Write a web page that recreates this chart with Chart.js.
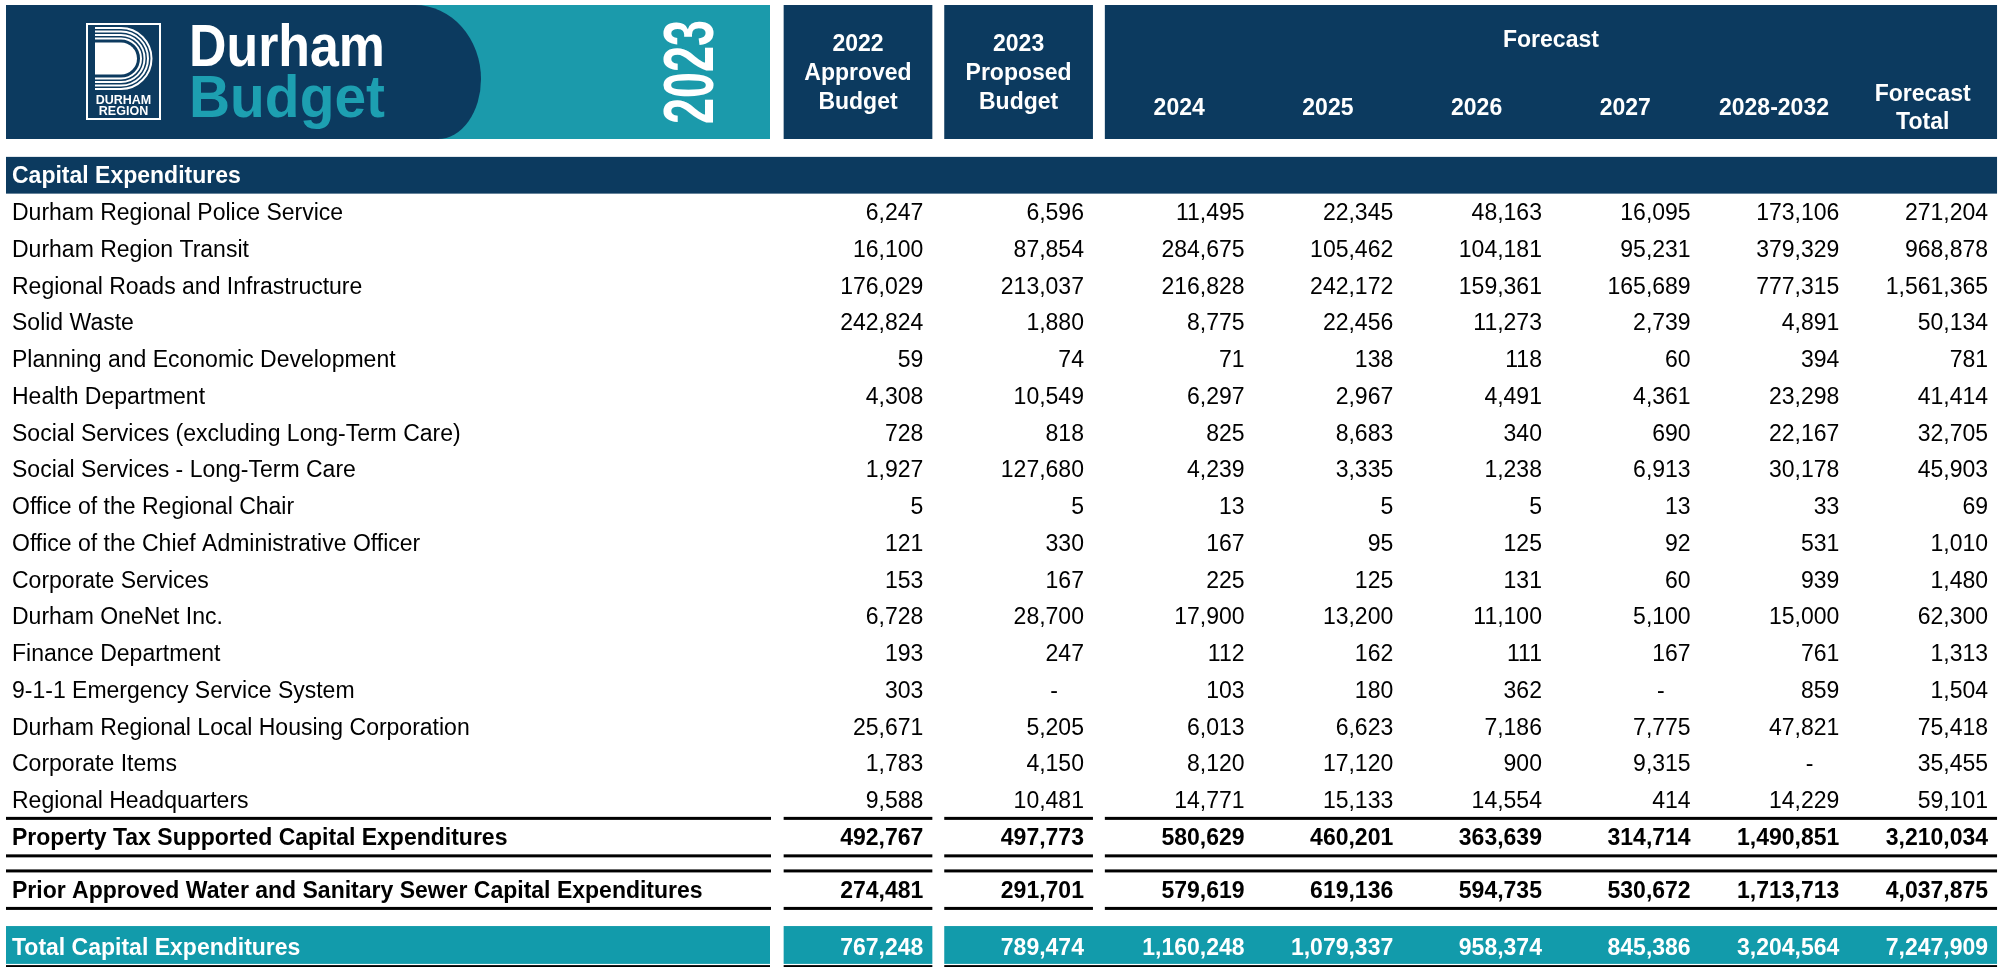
<!DOCTYPE html>
<html>
<head>
<meta charset="utf-8">
<script src="https://cdn.jsdelivr.net/npm/chart.js@4.4.0/dist/chart.umd.min.js"></script>
<style>
html,body{margin:0;padding:0;background:#fff;}
#wrap{width:2011px;height:967px;position:relative;}
</style>
</head>
<body>
<div id="wrap"><canvas id="c"></canvas></div>
<script>
// ---------------- DATA ----------------
const sectionLabel = 'Capital Expenditures';
const forecastGroupLabel = 'Forecast';
const columnHeaders = [
  ['2022', 'Approved', 'Budget'],
  ['2023', 'Proposed', 'Budget'],
  ['2024'], ['2025'], ['2026'], ['2027'], ['2028-2032'],
  ['Forecast', 'Total']
];
const departments = [
  'Durham Regional Police Service',
  'Durham Region Transit',
  'Regional Roads and Infrastructure',
  'Solid Waste',
  'Planning and Economic Development',
  'Health Department',
  'Social Services (excluding Long-Term Care)',
  'Social Services - Long-Term Care',
  'Office of the Regional Chair',
  'Office of the Chief Administrative Officer',
  'Corporate Services',
  'Durham OneNet Inc.',
  'Finance Department',
  '9-1-1 Emergency Service System',
  'Durham Regional Local Housing Corporation',
  'Corporate Items',
  'Regional Headquarters'
];
const approved2022 = [6247, 16100, 176029, 242824, 59, 4308, 728, 1927, 5, 121, 153, 6728, 193, 303, 25671, 1783, 9588];
const proposed2023 = [6596, 87854, 213037, 1880, 74, 10549, 818, 127680, 5, 330, 167, 28700, 247, null, 5205, 4150, 10481];
const forecast2024 = [11495, 284675, 216828, 8775, 71, 6297, 825, 4239, 13, 167, 225, 17900, 112, 103, 6013, 8120, 14771];
const forecast2025 = [22345, 105462, 242172, 22456, 138, 2967, 8683, 3335, 5, 95, 125, 13200, 162, 180, 6623, 17120, 15133];
const forecast2026 = [48163, 104181, 159361, 11273, 118, 4491, 340, 1238, 5, 125, 131, 11100, 111, 362, 7186, 900, 14554];
const forecast2027 = [16095, 95231, 165689, 2739, 60, 4361, 690, 6913, 13, 92, 60, 5100, 167, null, 7775, 9315, 414];
const forecast2028to2032 = [173106, 379329, 777315, 4891, 394, 23298, 22167, 30178, 33, 531, 939, 15000, 761, 859, 47821, null, 14229];
const forecastTotal = [271204, 968878, 1561365, 50134, 781, 41414, 32705, 45903, 69, 1010, 1480, 62300, 1313, 1504, 75418, 35455, 59101];

const summaryLabels = [
  'Property Tax Supported Capital Expenditures',
  'Prior Approved Water and Sanitary Sewer Capital Expenditures',
  'Total Capital Expenditures'
];
const propertyTaxTotals = [492767, 497773, 580629, 460201, 363639, 314714, 1490851, 3210034];
const waterSewerTotals  = [274481, 291701, 579619, 619136, 594735, 530672, 1713713, 4037875];
const totalCapital      = [767248, 789474, 1160248, 1079337, 958374, 845386, 3204564, 7247909];

const columnSeries = [approved2022, proposed2023, forecast2024, forecast2025, forecast2026, forecast2027, forecast2028to2032, forecastTotal];
const summarySeries = [propertyTaxTotals, waterSewerTotals, totalCapital];

// ---------------- STYLE / LAYOUT ----------------
const S = {
  W: 2011, H: 967,
  navy: '#0c3a5f', teal: '#1b9aab', totalTeal: '#129bab', budgetTeal: '#1d9fb1',
  font: '"Liberation Sans", Arial, Helvetica, sans-serif',
  fs: 23,
  colWidth: 148.7, firstColCenter: 858, groupGap: 0.08,
  rowHeight: 36.75, firstRowY: 212,
  labelLeft: 6, labelRight: 771, labelPad: 6,
  headerTop: 5, headerBottom: 139,
  textInset: 9, dashInset: 26,
  summaryGaps: [1, 1.45, 1.55],
  ruleW: 3
};
const columnGroups = [[0], [1], [2, 3, 4, 5, 6, 7]];
const totalBandGroups = [[0], [1, 2, 3, 4, 5, 6, 7]];

const groupOf = c => columnGroups.findIndex(g => g.includes(c));
const xPos = c => c + groupOf(c) * S.groupGap;

// row slots (row index along the y scale)
const summarySlots = [];
{
  let s = departments.length - 1;
  S.summaryGaps.forEach(g => { s += g; summarySlots.push(s); });
}

const xMin = (0 - S.firstColCenter) / S.colWidth;
const xMax = (S.W - S.firstColCenter) / S.colWidth;
const yMin = (0 - S.firstRowY) / S.rowHeight;
const yMax = (S.H - S.firstRowY) / S.rowHeight;

const datasets = columnSeries.map((series, c) => ({
  label: columnHeaders[c].join(' '),
  data: series.map((v, r) => ({ x: xPos(c), y: r, v: v, kind: 'row' }))
    .concat(summarySeries.map((ss, k) => ({ x: xPos(c), y: summarySlots[k], v: ss[c], kind: k === 2 ? 'total' : 'sum' }))),
  pointRadius: 0, pointHoverRadius: 0, showLine: false
}));

function fmt(v) { return v === null ? '-' : v.toLocaleString('en-US'); }
function font(w, size) { return (w ? 'bold ' : '') + size + 'px ' + S.font; }

function drawBanner(ctx) {
  const t = S.headerTop, b = S.headerBottom, l = S.labelLeft, r = 770;
  ctx.fillStyle = S.teal;
  ctx.fillRect(l, t, r - l, b - t);
  ctx.fillStyle = S.navy;
  ctx.beginPath();
  ctx.moveTo(l, t);
  ctx.lineTo(415, t);
  ctx.ellipse(415, 79, 66, 74, 0, -Math.PI / 2, 0);
  ctx.ellipse(438, 79, 43, 60, 0, 0, Math.PI / 2);
  ctx.lineTo(l, b);
  ctx.closePath();
  ctx.fill();

  // logo
  ctx.strokeStyle = '#fff';
  ctx.lineWidth = 2;
  ctx.strokeRect(87, 24, 73, 95);
  const cx = 121, cy = 58.5;
  [30.5, 27, 23.5, 20].forEach(rr => {
    ctx.beginPath();
    ctx.moveTo(95, cy - rr);
    ctx.lineTo(cx, cy - rr);
    ctx.arc(cx, cy, rr, -Math.PI / 2, Math.PI / 2);
    ctx.lineTo(95, cy + rr);
    ctx.stroke();
  });
  ctx.fillStyle = '#fff';
  ctx.beginPath();
  ctx.moveTo(95, cy - 16);
  ctx.lineTo(cx, cy - 16);
  ctx.arc(cx, cy, 16, -Math.PI / 2, Math.PI / 2);
  ctx.lineTo(95, cy + 16);
  ctx.closePath();
  ctx.fill();
  ctx.font = font(true, 12.5);
  ctx.textAlign = 'center';
  ctx.textBaseline = 'alphabetic';
  ctx.fillText('DURHAM', 123.5, 104);
  ctx.fillText('REGION', 123.5, 115);

  // Durham / Budget
  ctx.textAlign = 'left';
  ctx.font = font(true, 60);
  [['Durham', '#fff', 66], ['Budget', S.budgetTeal, 117]].forEach(([txt, col, base]) => {
    const w = ctx.measureText(txt).width;
    ctx.save();
    ctx.translate(189, base);
    ctx.scale(196 / w, 1);
    ctx.fillStyle = col;
    ctx.fillText(txt, 0, 0);
    ctx.restore();
  });

  // 2023 vertical
  ctx.save();
  ctx.font = font(true, 70);
  const w23 = ctx.measureText('2023').width;
  ctx.translate(687.5, 72);
  ctx.rotate(-Math.PI / 2);
  ctx.scale(104 / w23, 1);
  ctx.fillStyle = '#fff';
  ctx.fillText('2023', -w23 / 2, 0.716 * 70 / 2);
  ctx.restore();
}

const tablePlugin = {
  id: 'budgetTable',
  beforeDatasetsDraw(chart) {
    const ctx = chart.ctx, xs = chart.scales.x, ys = chart.scales.y;
    const cellL = c => xs.getPixelForValue(xPos(c) - 0.5);
    const cellR = c => xs.getPixelForValue(xPos(c) + 0.5);
    const boxOf = g => ({ l: cellL(g[0]), r: cellR(g[g.length - 1]) });
    const boxes = columnGroups.map(boxOf);
    const segs = [{ l: S.labelLeft, r: S.labelRight }].concat(boxes);
    ctx.save();
    ctx.fillStyle = '#fff';
    ctx.fillRect(0, 0, S.W, S.H);
    drawBanner(ctx);

    // header boxes
    ctx.fillStyle = S.navy;
    boxes.forEach(b => ctx.fillRect(b.l, S.headerTop, b.r - b.l, S.headerBottom - S.headerTop));

    // section bar
    const sTop = ys.getPixelForValue(-1.5), sBot = ys.getPixelForValue(-0.5);
    ctx.fillRect(S.labelLeft, sTop, boxes[boxes.length - 1].r - S.labelLeft, sBot - sTop);

    // rules
    ctx.fillStyle = '#000';
    const rule = y => segs.forEach(s => ctx.fillRect(s.l, y - S.ruleW / 2, s.r - s.l, S.ruleW));
    rule(ys.getPixelForValue(departments.length - 0.5));
    rule(ys.getPixelForValue(summarySlots[0] + 0.52));
    rule(ys.getPixelForValue(summarySlots[1] - 0.52));
    rule(ys.getPixelForValue(summarySlots[1] + 0.5));

    // total band
    const tTop = ys.getPixelForValue(summarySlots[2] - 0.57), tBot = ys.getPixelForValue(summarySlots[2] + 0.46);
    const tSegs = [{ l: S.labelLeft, r: S.labelRight - 1 }].concat(totalBandGroups.map(boxOf));
    ctx.fillStyle = S.totalTeal;
    tSegs.forEach(s => ctx.fillRect(s.l, tTop, s.r - s.l, tBot - tTop));
    ctx.fillStyle = '#000';
    const bl = ys.getPixelForValue(summarySlots[2] + 0.52);
    tSegs.forEach(s => ctx.fillRect(s.l, bl - 1, s.r - s.l, 2.5));
    ctx.restore();
  },
  afterDatasetsDraw(chart) {
    const ctx = chart.ctx, xs = chart.scales.x, ys = chart.scales.y;
    const cap = 0.716 * S.fs / 2;
    ctx.save();
    ctx.textBaseline = 'alphabetic';

    // column headers
    ctx.fillStyle = '#fff';
    ctx.font = font(true, S.fs);
    ctx.textAlign = 'center';
    const fg = columnGroups[columnGroups.length - 1];
    const inForecast = new Set(fg);
    columnHeaders.forEach((lines, c) => {
      const cx = xs.getPixelForValue(xPos(c));
      const cy = inForecast.has(c) ? 107 : 72;
      const lh = inForecast.has(c) ? 28 : 29;
      const y0 = cy - (lines.length - 1) * lh / 2;
      lines.forEach((t, i) => ctx.fillText(t, cx, y0 + i * lh + cap));
    });
    const fcx = (xs.getPixelForValue(xPos(fg[0]) - 0.5) + xs.getPixelForValue(xPos(fg[fg.length - 1]) + 0.5)) / 2;
    ctx.fillText(forecastGroupLabel, fcx, 39 + cap);

    // section label
    ctx.textAlign = 'left';
    ctx.fillText(sectionLabel, S.labelLeft + S.labelPad, ys.getPixelForValue(-1) + cap);

    // row labels
    const lx = S.labelLeft + S.labelPad;
    ctx.fillStyle = '#000';
    ctx.font = font(false, S.fs);
    departments.forEach((d, r) => ctx.fillText(d, lx, ys.getPixelForValue(r) + cap));
    summaryLabels.forEach((d, k) => {
      ctx.font = font(true, S.fs);
      ctx.fillStyle = k === 2 ? '#fff' : '#000';
      ctx.fillText(d, lx, ys.getPixelForValue(summarySlots[k]) + cap);
    });

    // values
    ctx.textAlign = 'right';
    chart.data.datasets.forEach((ds, i) => {
      const meta = chart.getDatasetMeta(i);
      meta.data.forEach((pt, j) => {
        const raw = ds.data[j];
        ctx.font = font(raw.kind !== 'row', S.fs);
        ctx.fillStyle = raw.kind === 'total' ? '#fff' : '#000';
        const rx = pt.x + S.colWidth / 2 - S.textInset;
        if (raw.v === null) ctx.fillText('-', rx - S.dashInset, pt.y + cap);
        else ctx.fillText(fmt(raw.v), rx, pt.y + cap);
      });
    });
    ctx.restore();
  }
};

new Chart(document.getElementById('c'), {
  type: 'scatter',
  data: { datasets },
  options: {
    responsive: true,
    maintainAspectRatio: false,
    animation: false,
    events: [],
    layout: { padding: 0 },
    plugins: { legend: { display: false }, tooltip: { enabled: false }, title: { display: false } },
    scales: {
      x: { type: 'linear', min: xMin, max: xMax, display: false },
      y: { type: 'linear', min: yMin, max: yMax, reverse: true, display: false }
    }
  },
  plugins: [tablePlugin]
});
</script>
</body>
</html>
